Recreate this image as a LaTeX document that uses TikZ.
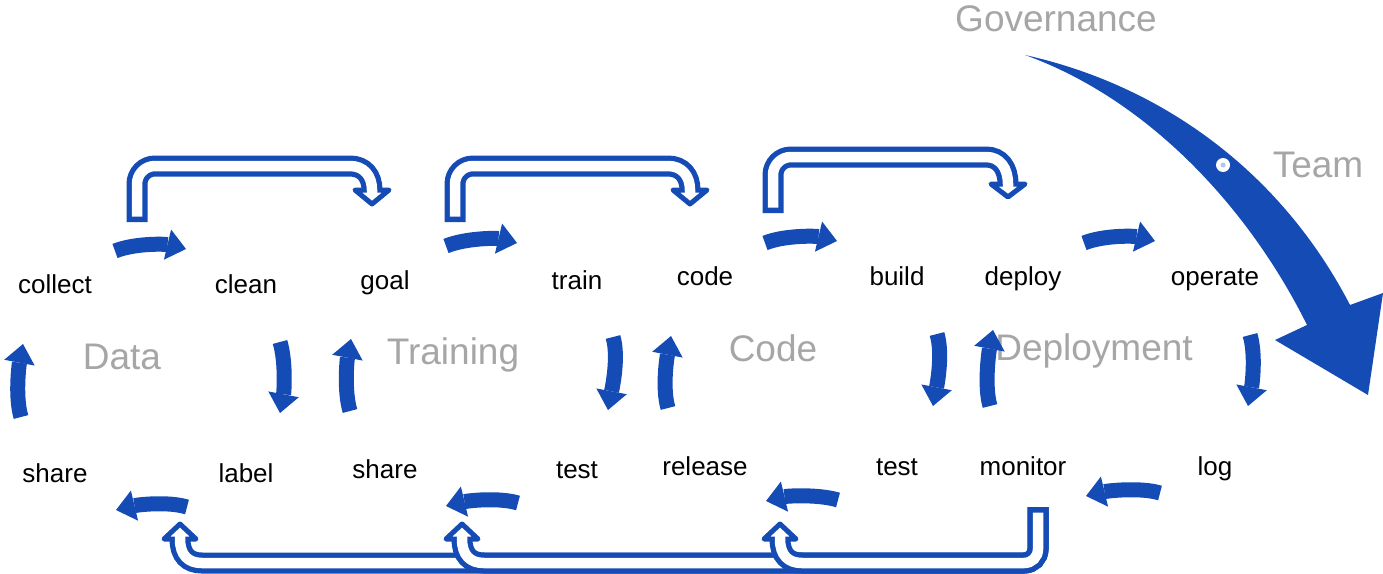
\documentclass[tikz,border=0pt]{standalone}
\usepackage{fontspec}
\setmainfont{Liberation Sans}
\usetikzlibrary{arrows.meta}
\definecolor{myblue}{RGB}{20,75,181}
\definecolor{mygray}{RGB}{166,166,166}
\definecolor{dotblue}{RGB}{176,198,240}
\begin{document}
\begin{tikzpicture}[x=1pt,y=-1pt,
 lbl/.style={anchor=base, inner sep=0pt, font=\fontsize{26}{30}\selectfont, text=black},
 grp/.style={anchor=base, inner sep=0pt, font=\fontsize{37}{42}\selectfont, text=mygray},
 barrow/.style={draw=myblue, line width=15pt, -{Triangle[width=31pt,length=19pt,line width=0pt]}},
 hout/.style={draw=myblue, line width=21pt},
 hin/.style={draw=white, line width=10.5pt},
 hhead/.style={fill=white, draw=myblue, line width=5pt, line join=round},
]
\useasboundingbox (0,0) rectangle (1383,573);

% ---------- text ----------
\node[lbl] (collect) at (55,293) {collect};
\node[lbl] (clean) at (246,293) {clean};
\node[lbl] (goal) at (385,289) {goal};
\node[lbl] (train) at (577,289) {train};
\node[lbl] (code) at (705,285) {code};
\node[lbl] (build) at (897,285) {build};
\node[lbl] (deploy) at (1023,285) {deploy};
\node[lbl] (operate) at (1215,285) {operate};
\node[lbl] (share1) at (55,482) {share};
\node[lbl] (label) at (246,482) {label};
\node[lbl] (share2) at (385,478) {share};
\node[lbl] (test1) at (577,478) {test};
\node[lbl] (release) at (705,475) {release};
\node[lbl] (test2) at (897,475) {test};
\node[lbl] (monitor) at (1023,475) {monitor};
\node[lbl] (log) at (1215,475) {log};

\node[grp] (data) at (122,369) {Data};
\node[grp] (training) at (453,364) {Training};
\node[grp] (codeg) at (773,361) {Code};
\node[grp] (deployment) at (1094,360) {Deployment};
\node[grp] (governance) at (1056,31) {Governance};
\node[grp] (team) at (1318,177) {Team};

% ---------- filled curved arrows ----------
% top, pointing right
\coordinate (a1s) at (115,251); \coordinate (a1e) at (186,249);
\coordinate (a2s) at (446,246); \coordinate (a2e) at (517,243);
\coordinate (a3s) at (765,243); \coordinate (a3e) at (837,241);
\coordinate (a4s) at (1084,243); \coordinate (a4e) at (1155,241);
\draw[barrow] (a1s) .. controls (135,243) and (165,244) .. (a1e);
\draw[barrow] (a2s) .. controls (466,238) and (496,238) .. (a2e);
\draw[barrow] (a3s) .. controls (785,235) and (816,236) .. (a3e);
\draw[barrow] (a4s) .. controls (1104,235) and (1134,236) .. (a4e);
% bottom, pointing left
\coordinate (b1s) at (187,507); \coordinate (b1e) at (116,510);
\coordinate (b2s) at (518,503); \coordinate (b2e) at (446,506);
\coordinate (b3s) at (838,500); \coordinate (b3e) at (766,501);
\coordinate (b4s) at (1160,493); \coordinate (b4e) at (1086,496);
\draw[barrow] (b1s) .. controls (167,501) and (137,505) .. (b1e);
\draw[barrow] (b2s) .. controls (498,497) and (467,501) .. (b2e);
\draw[barrow] (b3s) .. controls (818,494) and (787,496) .. (b3e);
\draw[barrow] (b4s) .. controls (1140,487) and (1107,491) .. (b4e);
% down
\coordinate (d1s) at (280,342); \coordinate (d1e) at (280,413);
\coordinate (d2s) at (613,337); \coordinate (d2e) at (608,410);
\coordinate (d3s) at (937,334); \coordinate (d3e) at (933,406);
\coordinate (d4s) at (1250,335); \coordinate (d4e) at (1248,406);
\draw[barrow] (d1s) .. controls (286,362) and (284,392) .. (d1e);
\draw[barrow] (d2s) .. controls (619,357) and (612,389) .. (d2e);
\draw[barrow] (d3s) .. controls (943,354) and (937,385) .. (d3e);
\draw[barrow] (d4s) .. controls (1256,355) and (1252,385) .. (d4e);
% up
\coordinate (u1s) at (21,417); \coordinate (u1e) at (23,344);
\coordinate (u2s) at (350,411); \coordinate (u2e) at (351,339);
\coordinate (u3s) at (668,408); \coordinate (u3e) at (671,336);
\coordinate (u4s) at (990,406); \coordinate (u4e) at (993,330);
\draw[barrow] (u1s) .. controls (15,397) and (19,365) .. (u1e);
\draw[barrow] (u2s) .. controls (344,391) and (347,360) .. (u2e);
\draw[barrow] (u3s) .. controls (662,388) and (667,357) .. (u3e);
\draw[barrow] (u4s) .. controls (984,386) and (989,351) .. (u4e);

% ---------- hollow arrows (top) ----------
\coordinate (h1s) at (137,222); \coordinate (h1e) at (372,190);
\draw[hout] (h1s) -- (137,184) .. controls (137,174) and (145,166) .. (155,166) -- (350,166) .. controls (364,166) and (372,176) .. (h1e);
\draw[hhead] (355,190) -- (389,190) -- (372,204) -- cycle;
\draw[hin] (137,216.5) -- (137,184) .. controls (137,174) and (145,166) .. (155,166) -- (350,166) .. controls (364,166) and (372,176) .. (372,190) -- (372,194);

\coordinate (h2s) at (455,222); \coordinate (h2e) at (690,190);
\draw[hout] (h2s) -- (455,184) .. controls (455,174) and (463,166) .. (473,166) -- (668,166) .. controls (682,166) and (690,176) .. (h2e);
\draw[hhead] (673,190) -- (707,190) -- (690,204) -- cycle;
\draw[hin] (455,216.5) -- (455,184) .. controls (455,174) and (463,166) .. (473,166) -- (668,166) .. controls (682,166) and (690,176) .. (690,190) -- (690,194);

\coordinate (h3s) at (773,213); \coordinate (h3e) at (1008,184);
\draw[hout] (h3s) -- (773,175) .. controls (773,165) and (781,157) .. (791,157) -- (986,157) .. controls (1000,157) and (1008,168) .. (h3e);
\draw[hhead] (991,184) -- (1025,184) -- (1008,197) -- cycle;
\draw[hin] (773,207.5) -- (773,175) .. controls (773,165) and (781,157) .. (791,157) -- (986,157) .. controls (1000,157) and (1008,168) .. (1008,184) -- (1008,188);

% ---------- hollow arrows (bottom, from monitor) ----------
\coordinate (ms) at (1038,507);
\foreach \cx in {180,462,780}{
  \draw[hout] (ms) -- (1038,549) .. controls (1038,557) and (1032,563) .. (1024,563) -- (\cx+22,563) .. controls (\cx+8,563) and (\cx,555) .. (\cx,539);
  \draw[hhead] (\cx-16,539) -- (\cx+16,539) -- (\cx,524) -- cycle;
  \draw[hin] (1038,512.5) -- (1038,549) .. controls (1038,557) and (1032,563) .. (1024,563) -- (\cx+22,563) .. controls (\cx+8,563) and (\cx,555) .. (\cx,539) -- (\cx,535);
}

% ---------- governance arrow ----------
\coordinate (gtail) at (1025,55);
\coordinate (gtip) at (1368,395);
\fill[myblue] (gtail) .. controls (1160,85) and (1280,170) .. (1350,305) -- (1383,293) -- (gtip) -- (1275,340) -- (1307,325) .. controls (1250,210) and (1150,100) .. (gtail) -- cycle;
\fill[white] (1223,165) circle (7);
\fill[dotblue] (1223,165) circle (2.5);
\end{tikzpicture}
\end{document}
